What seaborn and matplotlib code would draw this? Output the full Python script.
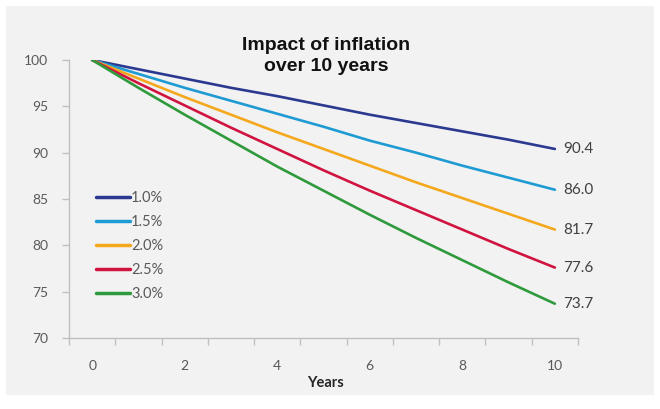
import matplotlib
matplotlib.use("Agg")
import matplotlib.pyplot as plt
from matplotlib.patches import Rectangle
import pandas as pd
import seaborn as sns

# Values (index value 100 eroded by inflation)
years = [0, 1, 2, 3, 4, 5, 6, 7, 8, 9, 10]
rate_labels = ["1.0%", "1.5%", "2.0%", "2.5%", "3.0%"]
value_10 = [100, 99.0, 98.0, 97.0, 96.1, 95.1, 94.1, 93.2, 92.3, 91.4, 90.4]
value_15 = [100, 98.5, 97.0, 95.6, 94.2, 92.8, 91.3, 90.0, 88.6, 87.3, 86.0]
value_20 = [100, 98.0, 96.0, 94.1, 92.2, 90.4, 88.6, 86.8, 85.1, 83.4, 81.7]
value_25 = [100, 97.5, 95.1, 92.7, 90.4, 88.1, 85.9, 83.8, 81.7, 79.6, 77.6]
value_30 = [100, 97.0, 94.1, 91.3, 88.5, 85.9, 83.3, 80.8, 78.4, 76.0, 73.7]
end_labels = ["90.4", "86.0", "81.7", "77.6", "73.7"]

series = [value_10, value_15, value_20, value_25, value_30]
df = pd.DataFrame(
    [
        {"year": y, "value": v, "rate": label}
        for label, vals in zip(rate_labels, series)
        for y, v in zip(years, vals)
    ]
)

colors = ["#2b3990", "#1f9bd4", "#f4a81d", "#d0143f", "#2f9a3c"]
bg = "#f2f2f2"
axis_gray = "#bfbfbf"
text_gray = "#595959"

sns.set_style("white")
plt.rcParams["font.family"] = ["Lato", "DejaVu Sans"]

fig = plt.figure(figsize=(6.6, 4.09), dpi=100, facecolor="white")
fig.patches.append(
    Rectangle((6 / 660, 1 - 395 / 409), 648 / 660, 389 / 409,
              transform=fig.transFigure, facecolor=bg, edgecolor="none", zorder=-10)
)
ax = fig.add_axes([69 / 660, 1 - 338 / 409, 509 / 660, 278 / 409])
ax.set_facecolor(bg)

sns.lineplot(data=df, x="year", y="value", hue="rate", palette=colors,
             linewidth=1.9, ax=ax, legend=True)

ax.set_xlim(-0.5, 10.5)
ax.set_ylim(70, 100)
ax.set_xticks([0, 2, 4, 6, 8, 10])
ax.set_xticks([x - 0.5 for x in years] + [10.5], minor=True)
ax.set_yticks([70, 75, 80, 85, 90, 95, 100])
ax.tick_params(axis="x", which="major", length=0, pad=16, labelsize=10, labelcolor=text_gray)
ax.tick_params(axis="x", which="minor", length=5, width=1, color=axis_gray, direction="out", bottom=True)
ax.tick_params(axis="y", which="major", length=5, width=1, color=axis_gray, direction="out",
               pad=10, labelsize=10, labelcolor=text_gray, left=True)
for side in ["top", "right"]:
    ax.spines[side].set_visible(False)
for side in ["left", "bottom"]:
    ax.spines[side].set_color(axis_gray)
    ax.spines[side].set_linewidth(1)
ax.set_xlabel("")
ax.set_ylabel("")

# End-of-line labels
for label, vals in zip(end_labels, series):
    ax.annotate(label, (years[-1], vals[-1]), xytext=(6, 0), textcoords="offset points",
                ha="left", va="center", fontsize=11, color="#404040")

leg = ax.legend(loc="upper left", bbox_to_anchor=(96 / 660, 1 - 191 / 409),
                bbox_transform=fig.transFigure, frameon=False, fontsize=10.5,
                handlelength=2.3, handletextpad=0.1, labelspacing=0.68,
                borderpad=0, borderaxespad=0)
for line in leg.get_lines():
    line.set_linewidth(2.5)
for t in leg.get_texts():
    t.set_color(text_gray)

fig.text(326 / 660, 1 - 56 / 409, "Impact of inflation\nover 10 years", ha="center", va="center",
         fontsize=14, fontweight="bold", color="#111111", family="Liberation Sans",
         linespacing=1.3)
fig.text(325 / 660, 1 - 383 / 409, "Years", ha="center", va="center",
         fontsize=10.5, fontweight="bold", color="#262626")

fig.savefig("out.png", dpi=100, facecolor="white")
